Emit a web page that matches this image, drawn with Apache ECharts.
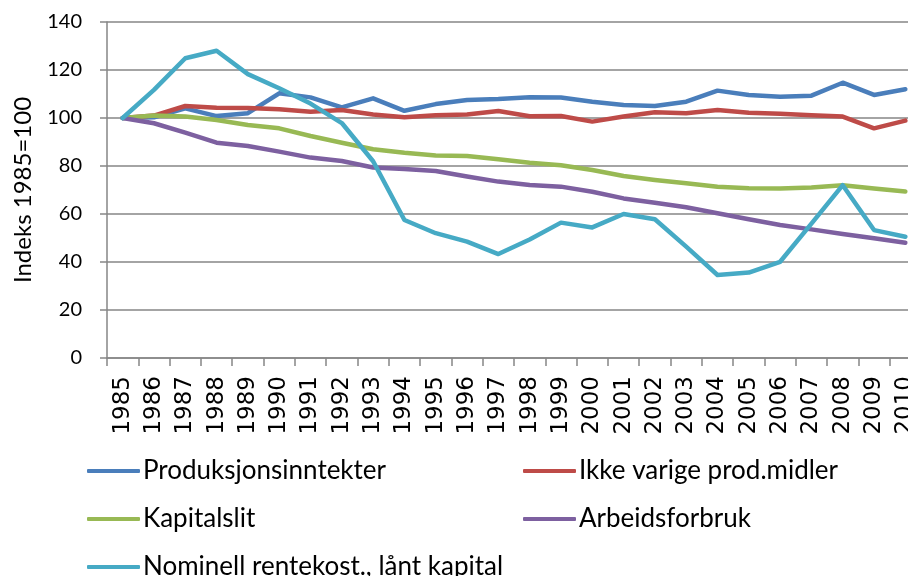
<!DOCTYPE html>
<html>
<head>
<meta charset="utf-8">
<script src="https://cdn.jsdelivr.net/npm/echarts@6/dist/echarts.min.js"></script>
<style>
  html, body { margin: 0; padding: 0; background: #fff; }
  #chart { width: 908px; height: 576px; }
</style>
</head>
<body>
<div id="chart"></div>
<script>
var years = ['1985', '1986', '1987', '1988', '1989', '1990', '1991', '1992', '1993', '1994', '1995', '1996', '1997',
  '1998', '1999', '2000', '2001', '2002', '2003', '2004', '2005', '2006', '2007', '2008', '2009', '2010'];

var produksjon = [100, 100.3, 104, 100.8, 102, 110.3, 108.6, 104.4, 108.2, 103, 105.8, 107.5, 107.9,
  108.6, 108.5, 106.8, 105.4, 105, 106.8, 111.4, 109.6, 108.9, 109.3, 114.7, 109.6, 112];
var ikkeVarige = [100, 101, 105, 104.3, 104.2, 103.6, 102.6, 103.3, 101.5, 100.3, 101.1, 101.5, 102.9,
  100.7, 100.8, 98.5, 100.6, 102.4, 102, 103.3, 102.2, 101.8, 101.1, 100.6, 95.7, 98.9];
var kapitalslit = [100, 101, 100.6, 99.2, 97.1, 95.7, 92.5, 89.7, 87, 85.5, 84.4, 84.2, 82.8,
  81.4, 80.3, 78.3, 75.8, 74.2, 72.8, 71.4, 70.7, 70.6, 71, 72, 70.6, 69.4];
var arbeid = [100, 97.8, 93.9, 89.7, 88.3, 86, 83.5, 82.1, 79.4, 78.7, 77.9, 75.6, 73.5,
  72.1, 71.4, 69.3, 66.5, 64.7, 62.8, 60.3, 57.8, 55.4, 53.6, 51.7, 49.9, 48];
var rentekost = [100, 111.7, 124.9, 128, 118.3, 112.4, 106, 97.9, 82, 57.5, 52, 48.5, 43.3,
  49.4, 56.4, 54.4, 60, 57.8, 46.4, 34.6, 35.6, 40.1, 56, 72, 53.3, 50.5];

var names = ['Produksjonsinntekter', 'Ikke varige prod.midler', 'Kapitalslit', 'Arbeidsforbruk',
  'Nominell rentekost., lånt kapital'];
var colors = ['#4a7ebb', '#be4b48', '#98b954', '#7d60a0', '#46aac5'];
var values = [produksjon, ikkeVarige, kapitalslit, arbeid, rentekost];

var chart = echarts.init(document.getElementById('chart'));

// legend rows: icon centre y ~470, 518, 565
var legendPos = [[87, 458], [523, 458], [87, 506], [523, 506], [87, 554]];
var legends = names.map(function (n, i) {
  return {
    data: [n],
    left: legendPos[i][0],
    top: legendPos[i][1],
    padding: 0,
    icon: 'roundRect',
    itemWidth: 53,
    itemHeight: 4,
    itemGap: 3,
    textStyle: {
      fontFamily: "'Lato', sans-serif",
      fontSize: 26,
      color: '#000',
      padding: [0, 0, 0, -2]
    }
  };
});

var option = {
  animation: false,
  color: colors,
  legend: legends,
  // plot runs past the right edge, like the original (2010 label is cut off)
  grid: {
    left: 107,
    top: 22,
    width: 814,
    height: 336,
    containLabel: false,
    outerBoundsMode: 'none'
  },
  xAxis: {
    type: 'category',
    data: years,
    boundaryGap: true,
    axisLine: { lineStyle: { color: '#868686', width: 1.5 } },
    axisTick: { show: true, length: 8, lineStyle: { color: '#868686', width: 1.5 } },
    axisLabel: {
      rotate: 90,
      interval: 0,
      margin: 18,
      fontFamily: "'DejaVu Sans', sans-serif",
      fontSize: 23,
      color: '#000'
    }
  },
  yAxis: {
    type: 'value',
    min: 0,
    max: 140,
    interval: 20,
    name: 'Indeks 1985=100',
    nameLocation: 'middle',
    nameRotate: 90,
    nameGap: 72,
    nameTextStyle: {
      fontFamily: "'Lato', sans-serif",
      fontSize: 24,
      color: '#000'
    },
    axisLine: { show: true, lineStyle: { color: '#868686', width: 1.5 } },
    axisTick: { show: true, length: 7, lineStyle: { color: '#868686', width: 1.5 } },
    axisLabel: {
      margin: 25,
      fontFamily: "'Lato', sans-serif",
      fontSize: 20,
      color: '#000'
    },
    splitLine: { lineStyle: { color: '#868686', width: 1.5 } }
  },
  series: names.map(function (n, i) {
    return {
      name: n,
      type: 'line',
      data: values[i],
      showSymbol: false,
      symbol: 'none',
      lineStyle: { width: 4.5, color: colors[i], cap: 'round', join: 'round' },
      itemStyle: { color: colors[i] }
    };
  })
};

chart.setOption(option);
</script>
</body>
</html>
